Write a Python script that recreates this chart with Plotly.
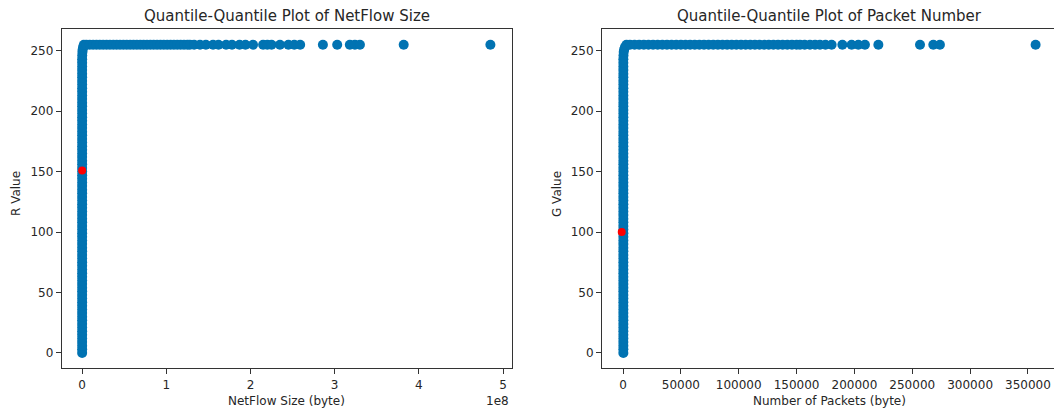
import plotly.graph_objects as go

# ---------------- data ----------------
# Left panel: quantiles of NetFlow size (bytes) vs R value
netflow_column_y = [0, 3, 6, 9, 12, 15, 18, 21, 24, 27, 30, 33, 36, 39, 42, 45, 48, 51, 54,
                    57, 60, 63, 66, 69, 72, 75, 78, 81, 84, 87, 90, 93, 96, 99, 102, 105,
                    108, 111, 114, 117, 120, 123, 126, 129, 132, 135, 138, 141, 144, 147,
                    150, 153, 156, 159, 162, 165, 168, 171, 174, 177, 180, 183, 186, 189,
                    192, 195, 198, 201, 204, 207, 210, 213, 216, 219, 222, 225, 228, 231,
                    234, 237, 240, 243, 246, 249, 251, 253]
netflow_column_x = [0, 0, 0, 0, 0, 0, 0, 0, 0, 0, 0, 0, 0, 0, 0, 0, 0, 0, 0,
                    0, 0, 0, 0, 0, 0, 0, 0, 0, 0, 0, 0, 0, 0, 0, 0, 0,
                    0, 0, 0, 0, 0, 0, 0, 0, 0, 0, 0, 0, 0, 0,
                    0, 0, 0, 0, 0, 0, 0, 0, 0, 0, 0, 0, 0, 0,
                    0, 0, 0, 0, 0, 0, 0, 0, 0, 0, 0, 0, 0, 0,
                    0, 0, 0, 0, 100000, 300000, 600000, 1100000]
netflow_row_x = [2.0e6, 5.0e6, 9.0e6, 1.3e7, 1.7e7, 2.1e7, 2.5e7, 2.9e7, 3.3e7, 3.7e7,
                 4.1e7, 4.5e7, 4.9e7, 5.3e7, 5.7e7, 6.1e7, 6.5e7, 6.9e7, 7.3e7, 7.7e7,
                 8.1e7, 8.5e7, 8.9e7, 9.3e7, 9.7e7, 1.01e8, 1.05e8, 1.09e8, 1.13e8,
                 1.17e8, 1.21e8, 1.25e8, 1.28e8, 1.33e8, 1.40e8, 1.47e8, 1.555e8, 1.62e8,
                 1.71e8, 1.78e8, 1.87e8, 1.94e8, 2.03e8, 2.15e8, 2.20e8, 2.25e8, 2.35e8,
                 2.45e8, 2.52e8, 2.59e8, 2.86e8, 3.03e8, 3.18e8, 3.24e8, 3.30e8, 3.82e8,
                 4.85e8]
netflow_row_y = [255] * len(netflow_row_x)
netflow_marker_x = [0]
netflow_marker_y = [151]

# Right panel: quantiles of packet number vs G value
packets_column_y = [0, 3, 6, 9, 12, 15, 18, 21, 24, 27, 30, 33, 36, 39, 42, 45, 48, 51, 54,
                    57, 60, 63, 66, 69, 72, 75, 78, 81, 84, 87, 90, 93, 96, 99, 102, 105,
                    108, 111, 114, 117, 120, 123, 126, 129, 132, 135, 138, 141, 144, 147,
                    150, 153, 156, 159, 162, 165, 168, 171, 174, 177, 180, 183, 186, 189,
                    192, 195, 198, 201, 204, 207, 210, 213, 216, 219, 222, 225, 228, 231,
                    234, 237, 240, 243, 246, 249, 251, 253]
packets_column_x = [300, 300, 300, 300, 300, 300, 300, 300, 300, 300, 300, 300, 300, 300,
                    300, 300, 300, 300, 300, 300, 300, 300, 300, 300, 300, 300, 300, 300,
                    300, 300, 300, 300, 300, 300, 300, 300, 300, 300, 300, 300, 300, 300,
                    300, 300, 300, 300, 300, 300, 300, 300, 300, 300, 300, 300, 300, 300,
                    300, 300, 300, 300, 300, 300, 300, 300, 300, 300, 300, 300, 300, 300,
                    300, 300, 300, 300, 300, 300, 300, 300, 300, 300, 300, 300, 400, 600,
                    1000, 1700]
packets_row_x = [3000, 6000, 10000, 14000, 18000, 22000, 26000, 30000, 34000, 38000, 42000,
                 46000, 50000, 54000, 58000, 62000, 66000, 70000, 74000, 78000, 82000,
                 86000, 90000, 94000, 98000, 102000, 106000, 110000, 114000, 118000,
                 122000, 126000, 130000, 134000, 138000, 142000, 146000, 150000, 153000,
                 157000, 161600, 166000, 170200, 175000, 180300, 189600, 197600, 203400,
                 209100, 220700, 256700, 268200, 273900, 356600]
packets_row_y = [255] * len(packets_row_x)
packets_marker_x = [-1100]
packets_marker_y = [100]

x1_tickvals = [0, 1e8, 2e8, 3e8, 4e8, 5e8]
x1_ticktext = ["0", "1", "2", "3", "4", "5"]
x2_tickvals = [0, 50000, 100000, 150000, 200000, 250000, 300000, 350000]
x2_ticktext = ["0", "50000", "100000", "150000", "200000", "250000", "300000", "350000"]
y_tickvals = [0, 50, 100, 150, 200, 250]

BLUE = "#0173b2"
RED = "#ff0000"
W, H = 1054, 412
FONT = "DejaVu Sans"
TXT = "#262626"

fig = go.Figure()

def blue(x, y, xa, ya):
    fig.add_trace(go.Scatter(x=x, y=y, mode="markers", xaxis=xa, yaxis=ya,
                             marker=dict(color=BLUE, size=10, line=dict(width=0)),
                             showlegend=False, hoverinfo="skip"))

blue(netflow_column_x, netflow_column_y, "x", "y")
blue(netflow_row_x, netflow_row_y, "x", "y")
fig.add_trace(go.Scatter(x=netflow_marker_x, y=netflow_marker_y, mode="markers",
                         marker=dict(color=RED, size=8, line=dict(width=0)), showlegend=False))
blue(packets_column_x, packets_column_y, "x2", "y2")
blue(packets_row_x, packets_row_y, "x2", "y2")
fig.add_trace(go.Scatter(x=packets_marker_x, y=packets_marker_y, mode="markers",
                         xaxis="x2", yaxis="y2",
                         marker=dict(color=RED, size=8, line=dict(width=0)), showlegend=False))

# pixel geometry
L1, R1 = 61.7, 511.7
L2, R2 = 602.0, 1054.0
TOP, BOT = 29.3, 368.3

axis_common = dict(showline=True, linecolor="#333333", linewidth=1,
                   ticks="outside", ticklen=5, tickcolor="#333333", tickwidth=1,
                   showgrid=False, zeroline=False,
                   tickfont=dict(family=FONT, size=12, color=TXT))

fig.update_layout(
    width=W, height=H, margin=dict(l=0, r=0, t=0, b=0),
    paper_bgcolor="white", plot_bgcolor="white",
    xaxis=dict(domain=[L1 / W, R1 / W], range=[-0.243e8, 5.103e8], mirror=True,
               tickvals=x1_tickvals, ticktext=x1_ticktext, anchor="y", **axis_common),
    yaxis=dict(domain=[(H - BOT) / H, (H - TOP) / H], range=[-12.75, 267.75], mirror=True,
               tickvals=y_tickvals, anchor="x", **axis_common),
    xaxis2=dict(domain=[L2 / W, R2 / W], range=[-18150, 372500], mirror=True,
                tickvals=x2_tickvals, ticktext=x2_ticktext, anchor="y2", **axis_common),
    yaxis2=dict(domain=[(H - BOT) / H, (H - TOP) / H], range=[-12.75, 267.75], mirror=False,
                tickvals=y_tickvals, anchor="x2", **axis_common),
)

def ann(text, x, y, size, angle=0, xanchor="center", yanchor="middle"):
    fig.add_annotation(text=text, x=x / W, y=1 - y / H, xref="paper", yref="paper",
                       showarrow=False, textangle=angle, xanchor=xanchor, yanchor=yanchor,
                       font=dict(family=FONT, size=size, color=TXT))

ann("Quantile-Quantile Plot of NetFlow Size", (L1 + R1) / 2, 15.5, 15)
ann("Quantile-Quantile Plot of Packet Number", (L2 + 1057) / 2, 15.5, 15)
ann("NetFlow Size (byte)", (L1 + R1) / 2, 401, 12)
ann("Number of Packets (byte)", (L2 + 1057) / 2, 401, 12)
ann("1e8", R1 - 1, 401, 12, xanchor="right")
ann("R Value", 16, 194, 12, angle=-90)
ann("G Value", 557, 194, 12, angle=-90)

fig.write_html("out.html", config={"displayModeBar": False},
               post_script="document.body.style.margin='0';document.body.style.overflow='hidden';")
